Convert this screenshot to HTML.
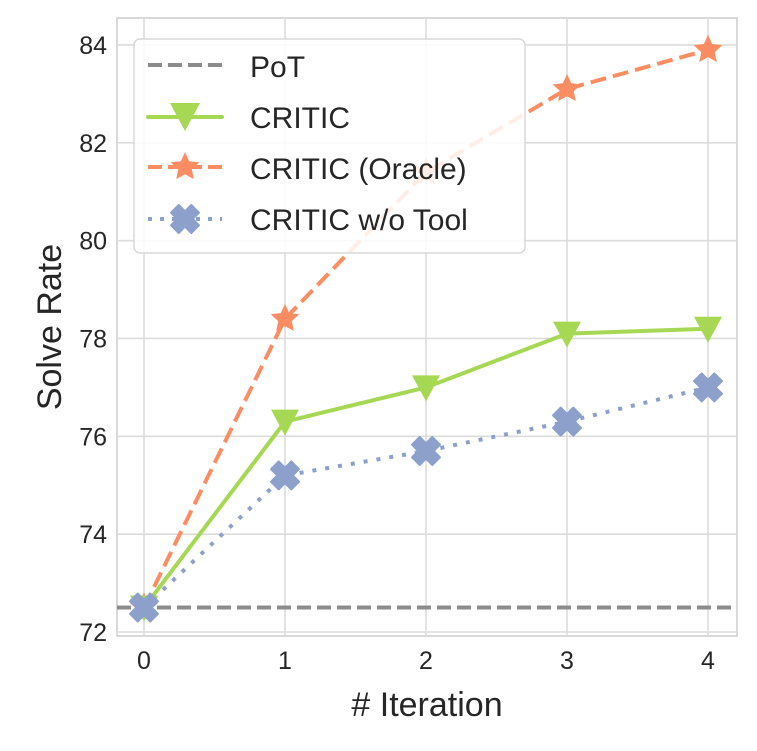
<!DOCTYPE html>
<html><head><meta charset="utf-8"><style>
body{margin:0;background:#fff;}
svg text{font-family:"Liberation Sans",sans-serif;fill:#262626;}
</style></head><body>
<svg id="chart" width="757" height="746">
<rect x="117" y="18" width="620" height="618" fill="#fff" stroke="#d0d0d0" stroke-width="1.6"/>
<g id="grid"></g>
<g id="ticks"></g>
<g id="series"></g>
<text x="50" y="338" font-size="34" text-anchor="middle" transform="rotate(-90 50 327)">Solve Rate</text>
<text x="427" y="716" font-size="34" text-anchor="middle"># Iteration</text>
<g>
<rect x="134" y="39" width="391" height="214" rx="6" fill="#fff" fill-opacity="0.85" stroke="#d8d8d8" stroke-width="1.5"/>
<g>
<line x1="148" y1="65" x2="222" y2="65" stroke="#8c8c8c" stroke-width="4" stroke-dasharray="14,6"/>
<text x="250" y="77" font-size="30">PoT</text></g>
<g>
<line x1="148" y1="117" x2="222" y2="117" stroke="#a6d854" stroke-width="4" stroke-linecap="round"/>
<path d="M170,103 L200,103 L185,131 Z" fill="#a6d854"/>
<text x="250" y="128" font-size="30">CRITIC</text></g>
<g>
<line x1="148" y1="167" x2="222" y2="167" stroke="#fc8d62" stroke-width="4" stroke-dasharray="14,6"/>
<g id="legstar"></g>
<text x="250" y="179" font-size="30">CRITIC (Oracle)</text></g>
<g>
<line x1="148" y1="219" x2="222" y2="219" stroke="#8da0cb" stroke-width="4" stroke-dasharray="4,8"/>
<g id="legx"></g>
<text x="250" y="230" font-size="30">CRITIC w/o Tool</text></g>
</g>
</svg>
<script>
const iterations=[0,1,2,3,4];
const yTicks=[72,74,76,78,80,82,84];
const potValue=72.5;
const critic=[72.5,76.3,77.0,78.1,78.2];
const oracle=[72.5,78.4,81.4,83.1,83.9];
const woTool=[72.5,75.2,75.7,76.3,77.0];
const NS="http://www.w3.org/2000/svg";
const X=v=>144+v*141, Y=v=>632-(v-72)*48.92;
function mk(tag,attrs,parent){const e=document.createElementNS(NS,tag);for(const k in attrs)e.setAttribute(k,attrs[k]);parent.appendChild(e);return e;}
const grid=document.getElementById('grid'),ticks=document.getElementById('ticks'),ser=document.getElementById('series');
yTicks.forEach(t=>{const l=mk('line',{x1:117,x2:737,y1:Y(t),y2:Y(t),stroke:'#dcdcdc','stroke-width':1.6},grid);


const tx=mk('text',{x:107,y:Y(t)+9,'font-size':25,'text-anchor':'end'},ticks);tx.textContent=t;

});
iterations.forEach(t=>{const l=mk('line',{x1:X(t),x2:X(t),y1:18,y2:636,stroke:'#dcdcdc','stroke-width':1.6},grid);


const tx=mk('text',{x:X(t),y:669,'font-size':25,'text-anchor':'middle'},ticks);tx.textContent=t;

});
const pot=mk('line',{x1:117,x2:737,y1:Y(potValue),y2:Y(potValue),stroke:'#8c8c8c','stroke-width':4,'stroke-dasharray':'14,6'},ser);


function star(cx,cy,R,p,c){let d='';for(let i=0;i<10;i++){const r=i%2?R*0.48:R;const a=-Math.PI/2+i*Math.PI/5;d+=(i?'L':'M')+(cx+r*Math.cos(a)).toFixed(1)+','+(cy+r*Math.sin(a)).toFixed(1);}return mk('path',{d:d+'Z',fill:c},p);}
function cross(cx,cy,s,p,c){const w=s*0.55;const d=`M${cx-s},${cy-s+w} L${cx-s+w},${cy-s} L${cx},${cy-w} L${cx+s-w},${cy-s} L${cx+s},${cy-s+w} L${cx+w},${cy} L${cx+s},${cy+s-w} L${cx+s-w},${cy+s} L${cx},${cy+w} L${cx-s+w},${cy+s} L${cx-s},${cy+s-w} L${cx-w},${cy}Z`;return mk('path',{d,fill:c,stroke:c,'stroke-width':2,'stroke-linejoin':'round'},p);}
function line(vals,col,dash,name){const pl=mk('polyline',{points:vals.map((v,i)=>X(iterations[i])+','+Y(v)).join(' '),fill:'none',stroke:col,'stroke-width':4,'stroke-dasharray':dash,'stroke-linejoin':'round'},ser);

}
line(oracle,'#fc8d62','16,7','oracle-line');
line(critic,'#a6d854','none','critic-line');
line(woTool,'#8da0cb','4,9','wo-tool-line');
oracle.forEach((v,i)=>{const s=star(X(iterations[i]),Y(v),15,ser,'#fc8d62');

});
critic.forEach((v,i)=>{const x=X(iterations[i]),y=Y(v);const t=mk('path',{d:`M${x-14},${y-12} L${x+14},${y-12} L${x},${y+14} Z`,fill:'#a6d854'},ser);

});
woTool.forEach((v,i)=>{const c=cross(X(iterations[i]),Y(v),14,ser,'#8da0cb');

});
star(185,167,15,document.getElementById('legstar'),'#fc8d62');
cross(185,219,14,document.getElementById('legx'),'#8da0cb');
</script>
</body></html>
